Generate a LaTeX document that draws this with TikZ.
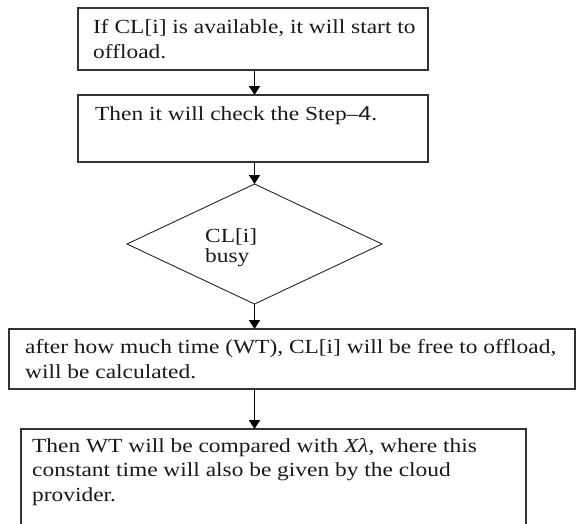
\documentclass[tikz,border=0pt]{standalone}
\usepackage{fontspec}
\setmainfont[FakeStretch=1.17]{Liberation Serif}
\newfontfamily\arialfont[FakeStretch=1.17]{Liberation Sans}
\usetikzlibrary{shapes.geometric,arrows.meta}
\tikzset{
  box/.style={draw=black!80, line width=1.1pt, inner sep=0pt, outer sep=0pt},
  decision/.style={diamond, draw=black!85, line width=0.9pt, inner sep=0pt, outer sep=0pt, aspect=2.125},
  txt/.style={anchor=base west, inner sep=0pt, align=left, font=\fontsize{20}{25}\selectfont, text=black!90},
  flow/.style={line width=1.7pt, -{Triangle[length=9pt,width=11pt]}}
}
\begin{document}
\begin{tikzpicture}[x=1pt,y=-1pt]
\useasboundingbox (0,0) rectangle (576,523);
\clip (0,0) rectangle (576,523);
\node[box, minimum width=350pt, minimum height=62pt] (b1) at (253,39) {};
\node[box, minimum width=350pt, minimum height=67pt] (b2) at (253,128.5) {};
\node[decision, minimum width=255pt, minimum height=120pt] (d) at (254.5,244) {};
\node[box, minimum width=566pt, minimum height=60pt] (b3) at (292,359) {};
\node[box, minimum width=505pt, minimum height=120pt] (b4) at (273.5,489) {};

\node[txt] (t1) at (93,58) {If CL[i] is available, it will start to\\offload.};
\node[txt] (t2) at (95,120) {Then it will check the Step–{\arialfont 4}.};
\node[txt, font=\fontsize{20}{20}\selectfont] (t3) at (205,262) {CL[i]\\busy};
\node[txt] (t4) at (25,378) {after how much time (WT), CL[i] will be free to offload,\\will be calculated.};
\node[txt, font=\fontsize{20}{24.5}\selectfont] (t5) at (32,501) {Then WT will be compared with \textit{Xλ}, where this\\constant time will also be given by the cloud\\provider.};

\draw[flow] (b1.south -| d) -- (b2.north -| d);
\draw[flow] (b2.south -| d) -- (d.north);
\draw[flow] (d.south) -- (b3.north -| d);
\draw[flow] (b3.south -| d) -- (b4.north -| d);
\end{tikzpicture}
\end{document}
